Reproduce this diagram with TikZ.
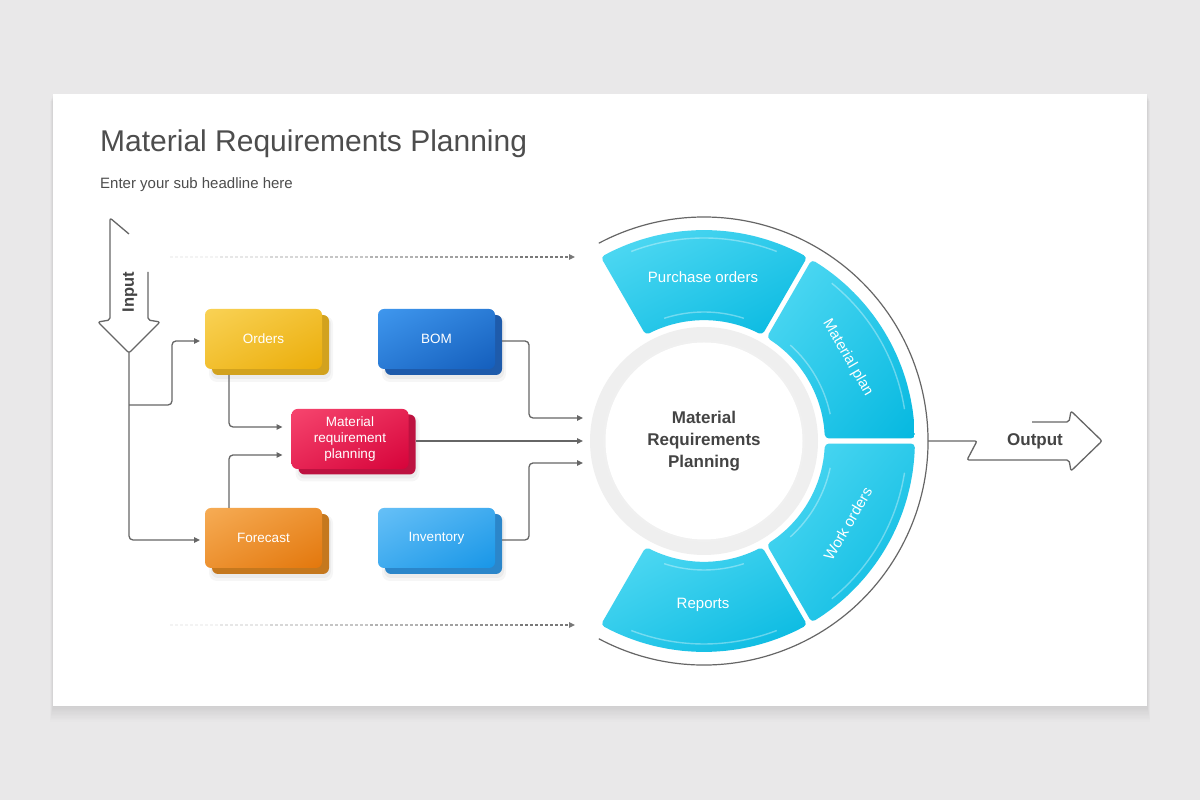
\documentclass[tikz,border=0pt]{standalone}
\usepackage{fontspec}
\setmainfont{Liberation Sans}
\usetikzlibrary{calc,arrows.meta,shadings}
\definecolor{bgc}{HTML}{E9E8E9}
\definecolor{lnc}{HTML}{666666}
\definecolor{titc}{HTML}{4D4D4D}
\definecolor{ctext}{HTML}{444444}
\definecolor{ringc}{HTML}{EFEFEF}
\definecolor{cyL}{HTML}{55DBF4}
\definecolor{cyD}{HTML}{05B8E0}
\definecolor{ordL}{HTML}{F9D255}
\definecolor{ordD}{HTML}{EBAD0A}
\definecolor{ordB}{HTML}{D2A21E}
\definecolor{bomL}{HTML}{3F97EE}
\definecolor{bomD}{HTML}{145EBC}
\definecolor{bomB}{HTML}{1E5BAB}
\definecolor{mrpL}{HTML}{F6456E}
\definecolor{mrpD}{HTML}{D6033A}
\definecolor{mrpB}{HTML}{BD1240}
\definecolor{forL}{HTML}{F6AC55}
\definecolor{forD}{HTML}{E3770C}
\definecolor{forB}{HTML}{C5781E}
\definecolor{invL}{HTML}{66C0F7}
\definecolor{invD}{HTML}{1896E7}
\definecolor{invB}{HTML}{2B86CA}
\pgfdeclarelayer{Lzero}
\pgfdeclarelayer{Lone}
\pgfsetlayers{Lzero,Lone,main}
\begin{document}
\begin{tikzpicture}[x=1pt,y=1pt,
  conn/.style={draw=lnc, line width=1.3pt, rounded corners=4pt, -{Triangle[length=6pt,width=5.5pt]}},
  outl/.style={draw=lnc, line width=1.3pt, rounded corners=2pt, line join=round},
  cardsh/.style={minimum width=117pt, minimum height=60pt, rounded corners=6pt, inner sep=0pt, outer sep=0pt},
  front/.style={cardsh, text=white, font=\fontsize{13.5}{16.3}\selectfont, align=center},
  grad/.style 2 args={upper left=#1, lower right=#2, upper right=#1!50!#2, lower left=#1!50!#2},
  seglbl/.style={text=white, font=\fontsize{15}{17}\selectfont},
  bigbold/.style={text=ctext, font=\bfseries\fontsize{17}{22}\selectfont, align=center},
]
\useasboundingbox (0,0) rectangle (1200,800);
\begin{pgfonlayer}{Lzero}
  \fill[bgc] (0,0) rectangle (1200,800);
  \foreach \i in {1,...,12} \fill[black, opacity=0.009] (53-\i*0.25, 94-\i*1.3) rectangle (1147+\i*0.25, 706-\i*0.6);
  \fill[white] (53,94) rectangle (1147,706);
\end{pgfonlayer}

% title
\node[anchor=base west, inner sep=0pt, text=titc, font=\fontsize{30}{34}\selectfont] (title) at (100,648) {Material Requirements Planning};
\node[anchor=base west, inner sep=0pt, text=titc, font=\fontsize{15}{18}\selectfont] (sub) at (100,611) {Enter your sub headline here};

% input arrow
\draw[outl] (129,566) -- (110,582) -- (110,480) -- (98,478) -- (129,447) -- (160,478) -- (148,480) -- (148,528);
\node[rotate=90, bigbold, font=\bfseries\fontsize{16.5}{20}\selectfont] (inT) at (130,508) {Input};
\coordinate (inTip) at (129,447);
\coordinate (br) at (129,395);

% cards
\node[cardsh, fill=ordB] (ordersB) at (270.5,455) {};
\node[cardsh, fill=bomB] (bomBk) at (443.5,455) {};
\node[cardsh, fill=mrpB] (mrpBk) at (357,355.5) {};
\node[cardsh, fill=forB] (foreB) at (270.5,256) {};
\node[cardsh, fill=invB] (invBk) at (443.5,256) {};
\begin{pgfonlayer}{Lone}
\foreach \n in {ordersB,bomBk,mrpBk,foreB,invBk}{
  \fill[black, opacity=.035, rounded corners=8pt] ($(\n.south west)+(-3,-7)$) rectangle ($(\n.north east)+(4,-1)$);
  \fill[black, opacity=.045, rounded corners=7pt] ($(\n.south west)+(-1,-4)$) rectangle ($(\n.north east)+(2,-2)$);
}
\end{pgfonlayer}
\node[front, grad={ordL}{ordD}] (orders) at (263.5,461) {Orders};
\node[front, grad={bomL}{bomD}] (bom) at (436.5,461) {BOM};
\node[front, grad={mrpL}{mrpD}] (mrp) at (350,361) {Material\\requirement\\planning};
\node[front, grad={forL}{forD}] (fore) at (263.5,262) {Forecast};
\node[front, grad={invL}{invD}] (inv) at (436.5,262) {Inventory};

% targets
\coordinate (t1) at (583,382);
\coordinate (t2) at (583,359);
\coordinate (t3) at (583,337);

% connectors
\draw[conn, shorten >=5pt] (inTip) |- ([yshift=-2pt]fore.west);
\draw[conn, shorten >=5pt] (br) -- ++(43,0) |- ([yshift=-2pt]orders.west);
\draw[conn, shorten >=9pt] ([xshift=17pt]ordersB.south west) |- ([yshift=12pt]mrp.west);
\draw[conn, shorten >=9pt] ([xshift=24pt]fore.north west) |- ([yshift=-16pt]mrp.west);
\draw[conn] ([yshift=4pt]bomBk.east) -- ++(27,0) |- (t1);
\draw[conn] (mrpBk.east |- t2) -- (t2);
\draw[conn] ([yshift=4pt]invBk.east) -- ++(27,0) |- (t3);

% dashed lines
\coordinate (dT0) at (170,543);
\coordinate (dT1) at (575,543);
\coordinate (dB0) at (170,175);
\coordinate (dB1) at (575,175);
\foreach \k/\c in {0/8,1/16,2/26,3/38,4/50,5/62,6/74}{
  \draw[draw=lnc!\c, line width=1.1pt, dash pattern=on 3pt off 2pt] ($(dT0)+(\k*50,0)$) -- ($(dT0)+(\k*50+50,0)$);
  \draw[draw=lnc!\c, line width=1.1pt, dash pattern=on 3pt off 2pt] ($(dB0)+(\k*50,0)$) -- ($(dB0)+(\k*50+50,0)$);
}
\draw[draw=lnc!88, line width=1.1pt, dash pattern=on 3pt off 2pt, -{Triangle[length=6pt,width=5.5pt]}] ($(dT0)+(350,0)$) -- (dT1);
\draw[draw=lnc!88, line width=1.1pt, dash pattern=on 3pt off 2pt, -{Triangle[length=6pt,width=5.5pt]}] ($(dB0)+(350,0)$) -- (dB1);

% wheel
\coordinate (C) at (704,359);
\fill[ringc] (C) circle[radius=114];
\fill[black!6] (C) circle[radius=101];
\fill[white] (C) circle[radius=98.5];
\node[bigbold] (ctr) at (C) {Material\\Requirements\\Planning};

\begin{scope}[shift={(C)}]
\foreach \a/\b in {60/120,0/60,-60/0,-120/-60}{
  \shade[grad={cyL}{cyD}, rounded corners=4pt] plot[domain={\a+0.7}:{\b-0.7}, samples=16] (\x:211) -- plot[domain={\b-1.2}:{\a+1.2}, samples=10] (\x:121) -- cycle;
  \draw[white, opacity=.35, line width=1.4pt] ({\a+9}:203) arc[start angle=\a+9, end angle=\b-9, radius=203];
  \draw[white, opacity=.35, line width=1.4pt] ({\a+12}:129) arc[start angle=\a+12, end angle=\b-12, radius=129];
}
\end{scope}
\node[seglbl] (po) at (703,523) {Purchase orders};
\node[seglbl] (rep) at (703,195) {Reports};
\node[seglbl, rotate=-60] (mp) at ($(C)+(30:166)$) {Material plan};
\node[seglbl, rotate=60] (wo) at ($(C)+(-30:166)$) {Work orders};

% outer arc
\draw[lnc, line width=1.2pt] ($(C)+(-118:224)$) arc[start angle=-118, end angle=118, radius=224];
\coordinate (arcR) at ($(C)+(0:224)$);

% output arrow
\draw[outl] (arcR) -- (977,359) -- (967,340) -- (1069,340) -- (1071,329) -- (1102,359) -- (1071,389) -- (1069,378) -- (1032,378);
\node[bigbold] (outT) at (1035,359) {Output};
\end{tikzpicture}
\end{document}
